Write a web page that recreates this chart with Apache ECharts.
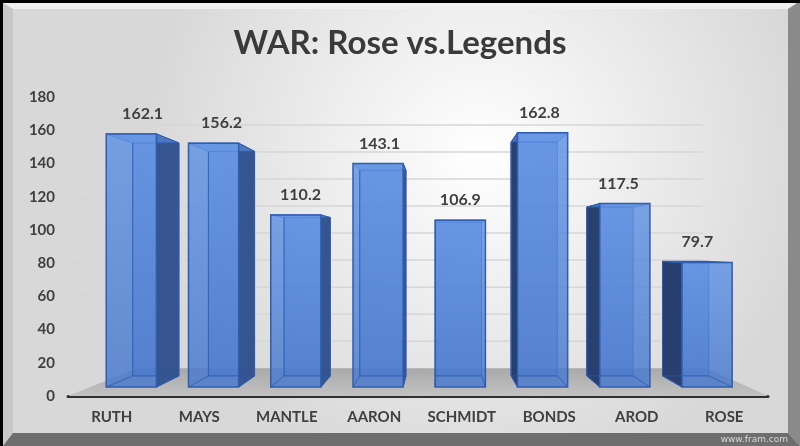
<!DOCTYPE html>
<html>
<head>
<meta charset="utf-8">
<script src="https://cdn.jsdelivr.net/npm/echarts@6/dist/echarts.min.js"></script>
<style>
  html, body { margin: 0; padding: 0; }
  #chartContainer { width: 800px; height: 446px; }
</style>
</head>
<body>
<div id="chartContainer"></div>
<script>
// data
const players = ['RUTH', 'MAYS', 'MANTLE', 'AARON', 'SCHMIDT', 'BONDS', 'AROD', 'ROSE'];
const war = [162.1, 156.2, 110.2, 143.1, 106.9, 162.8, 117.5, 79.7];
const yTicks = [0, 20, 40, 60, 80, 100, 120, 140, 160, 180];

// fake perspective: everything is scaled toward a vanishing point
const VP = [438, 247];
const S_FRONT = 0.94;   // front face of the columns
const S_BACK = 0.865;   // back face of the columns
const S_WALL = 0.814;   // back wall / back of the floor
const BAR_FRAC = 0.61;

function proj(pt, s) {
    return [VP[0] + s * (pt[0] - VP[0]), VP[1] + s * (pt[1] - VP[1])];
}

function renderColumn(params, api) {
    const idx = api.value(0);
    const v = api.value(1);
    const base = api.coord([idx, 0]);
    const top = api.coord([idx, v]);
    const w = api.size([1, 0])[0] * BAR_FRAC;
    const xl = base[0] - w / 2, xr = base[0] + w / 2;
    const corners = [[xl, top[1]], [xr, top[1]], [xr, base[1]], [xl, base[1]]];
    const f = corners.map(p => proj(p, S_FRONT));
    const b = corners.map(p => proj(p, S_BACK));
    const leftSide = base[0] < VP[0];
    const edge = '#2f5db0';
    const children = [];

    // back face
    children.push({ type: 'polygon', shape: { points: b },
        style: { fill: 'rgba(70,115,200,0.55)', stroke: edge, lineWidth: 1 } });
    // side face
    const side = leftSide ? [f[1], b[1], b[2], f[2]] : [f[0], b[0], b[3], f[3]];
    children.push({ type: 'polygon', shape: { points: side },
        style: { fill: leftSide ? 'rgba(48,80,140,0.95)' : 'rgba(36,58,105,0.95)', stroke: edge, lineWidth: 1 } });
    // top face
    children.push({ type: 'polygon', shape: { points: [f[0], f[1], b[1], b[0]] },
        style: { fill: 'rgba(90,140,220,0.6)', stroke: edge, lineWidth: 1 } });
    // front face
    children.push({ type: 'polygon', shape: { points: f },
        style: {
            fill: new echarts.graphic.LinearGradient(0, 0, 0, 1, [
                { offset: 0, color: 'rgba(96,146,228,0.82)' },
                { offset: 1, color: 'rgba(72,120,205,0.82)' }
            ]),
            stroke: edge, lineWidth: 1.5
        } });
    // back edges seen through the front
    children.push({ type: 'polyline', shape: { points: [b[0], b[3], b[2]] },
        style: { stroke: 'rgba(45,90,175,0.8)', lineWidth: 1, fill: null } });
    children.push({ type: 'line', shape: { x1: f[3][0], y1: f[3][1], x2: b[3][0], y2: b[3][1] },
        style: { stroke: 'rgba(45,90,175,0.8)', lineWidth: 1 } });
    children.push({ type: 'line', shape: { x1: f[2][0], y1: f[2][1], x2: b[2][0], y2: b[2][1] },
        style: { stroke: 'rgba(45,90,175,0.8)', lineWidth: 1 } });
    // value label
    const xs = f.concat(b).map(p => p[0]);
    const ys = f.concat(b).map(p => p[1]);
    children.push({ type: 'text', style: {
        text: v.toFixed(1),
        x: (Math.min(...xs) + Math.max(...xs)) / 2,
        y: Math.min(...ys) - 12,
        align: 'center', verticalAlign: 'bottom',
        font: 'bold 16px Lato', fill: '#404040'
    } });
    return { type: 'group', children: children };
}

function renderWall(params, api) {
    const v = api.value(1);
    const cs = params.coordSys;
    const p = api.coord([0, v]);
    const left = [cs.x, p[1]];
    const right = [cs.x + cs.width, p[1]];
    const children = [];
    if (v === 0) {
        // floor
        children.push({ type: 'polygon', z2: 1,
            shape: { points: [left, right, proj(right, S_WALL), proj(left, S_WALL)] },
            style: { fill: new echarts.graphic.LinearGradient(0, 0, 0, 1, [
                { offset: 0, color: '#a9a9a9' }, { offset: 1, color: '#c2c2c2' }
            ]) } });
    } else {
        const bl = proj(left, S_WALL);
        const br = proj(right, S_WALL);
        children.push({ type: 'polyline', shape: { points: [[left[0] + 3, left[1]], bl, [br[0] - 4, br[1]]] },
            style: { stroke: '#d6d6d6', lineWidth: 1.5, fill: null } });
    }
    return { type: 'group', children: children };
}

const chart = echarts.init(document.getElementById('chartContainer'));

const option = {
    animation: false,
    backgroundColor: {
        type: 'radial', x: 0.6, y: 0.35, r: 0.75,
        colorStops: [{ offset: 0, color: '#ffffff' }, { offset: 1, color: '#d8d8d8' }]
    },
    title: {
        text: 'WAR: Rose vs.Legends',
        left: 'center', top: 22,
        textStyle: { fontFamily: 'Lato', fontWeight: 'bold', fontSize: 33, color: '#3a3a3a' }
    },
    grid: { left: 68, right: 32, top: 97, bottom: 50 },
    xAxis: {
        type: 'category',
        data: players,
        axisTick: { show: false },
        axisLine: { lineStyle: { color: '#303030', width: 3 } },
        axisLabel: { interval: 0, margin: 14, color: '#404040', fontFamily: 'Lato', fontWeight: 'bold', fontSize: 15 },
        splitLine: { show: false }
    },
    yAxis: {
        type: 'value',
        min: 0, max: 180, interval: 20,
        axisLine: { show: false },
        axisTick: { show: false },
        splitLine: { show: false },
        axisLabel: { margin: 13, color: '#404040', fontFamily: 'Lato', fontWeight: 'bold', fontSize: 15 }
    },
    series: [
        {
            type: 'custom',
            z: 1,
            renderItem: renderWall,
            data: yTicks.map(t => [0, t]),
            silent: true
        },
        {
            type: 'custom',
            z: 3,
            renderItem: renderColumn,
            data: war.map((v, i) => [i, v])
        }
    ],
    graphic: [
        // bevelled frame of the screenshot
        { type: 'polygon', shape: { points: [[3, 3], [797, 3], [788, 9], [13, 9]] }, style: { fill: '#f0f0f0' } },
        { type: 'polygon', shape: { points: [[3, 3], [13, 9], [13, 433], [3, 446]] }, style: { fill: '#c8c8c8' } },
        { type: 'polygon', shape: { points: [[797, 3], [800, 3], [800, 446], [788, 433], [788, 9]] }, style: { fill: '#8a8a8a' } },
        { type: 'polygon', shape: { points: [[13, 433], [788, 433], [800, 446], [3, 446]] }, style: { fill: '#6e6e6e' } },
        { type: 'rect', shape: { x: 0, y: 0, width: 800, height: 3 }, style: { fill: '#000' } },
        { type: 'rect', shape: { x: 0, y: 0, width: 3, height: 446 }, style: { fill: '#000' } },
        { type: 'text', right: 12, bottom: 2,
          style: { text: 'www.fram.com', font: '9px "DejaVu Sans"', fill: '#d8d8d8' } }
    ]
};

chart.setOption(option);
</script>
</body>
</html>
